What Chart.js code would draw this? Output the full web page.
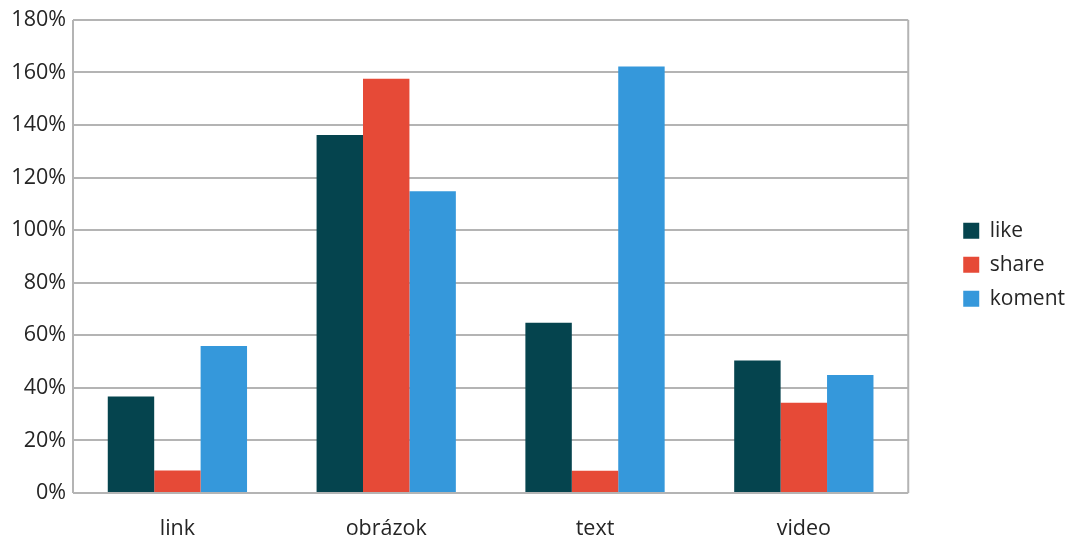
<!DOCTYPE html>
<html>
<head>
<meta charset="utf-8">
<script src="https://cdn.jsdelivr.net/npm/chart.js@4"></script>
<style>
  html, body { margin: 0; padding: 0; background: #fff; }
  #wrap { width: 1070px; height: 538px; }
</style>
</head>
<body>
<div id="wrap"><canvas id="c" width="1070" height="538"></canvas></div>
<script>
// Post types and relative engagement (percent)
const categories = ['link', 'obrázok', 'text', 'video'];
const likeValues   = [36.7, 136.2, 64.8, 50.4];
const shareValues  = [8.6, 157.6, 8.5, 34.3];
const komentValues = [55.9, 114.8, 162.3, 44.9];
const yTicks = [0, 20, 40, 60, 80, 100, 120, 140, 160, 180];

const gridColor = '#b4b4b4';
const textFont = { family: 'Open Sans', size: 21.5 };
const legendFont = { family: 'Open Sans', size: 21 };
const textColor = '#252525';

// Outline the plot area (left and right edges)
const frame = {
  id: 'frame',
  afterDatasetsDraw(chart) {
    const { ctx, chartArea: a } = chart;
    ctx.save();
    ctx.strokeStyle = gridColor;
    ctx.lineWidth = 2;
    ctx.beginPath();
    ctx.moveTo(a.left, a.top); ctx.lineTo(a.left, a.bottom);
    ctx.moveTo(a.right, a.top); ctx.lineTo(a.right, a.bottom);
    ctx.stroke();
    ctx.restore();
  }
};

new Chart(document.getElementById('c'), {
  type: 'bar',
  data: {
    labels: categories,
    datasets: [
      { label: 'like',   data: likeValues,   backgroundColor: '#05444e' },
      { label: 'share',  data: shareValues,  backgroundColor: '#e64a37' },
      { label: 'koment', data: komentValues, backgroundColor: '#3598db' }
    ]
  },
  options: {
    responsive: false,
    animation: false,
    devicePixelRatio: 1,
    layout: { padding: { top: 7, right: -5, bottom: 0, left: 0 } },
    datasets: { bar: { categoryPercentage: 0.667, barPercentage: 1.0 } },
    plugins: {
      legend: {
        position: 'right',
        fullSize: false,
        // blank title block nudges the item column slightly downward
        title: { display: true, text: '', padding: 0, font: { size: 14 } },
        labels: {
          font: legendFont,
          color: textColor,
          boxWidth: 16,
          boxHeight: 16,
          padding: 13
        }
      },
      tooltip: { enabled: false }
    },
    scales: {
      x: {
        grid: { display: false },
        border: { display: false },
        ticks: { font: textFont, color: textColor, padding: 15 },
        afterFit(scale) { scale.height = 45; }
      },
      y: {
        min: 0,
        max: 180,
        afterBuildTicks(axis) { axis.ticks = yTicks.map(v => ({ value: v })); },
        grid: { color: gridColor, lineWidth: 2, drawTicks: false },
        border: { display: false },
        ticks: {
          font: textFont,
          color: textColor,
          padding: 7,
          callback: v => v + '%'
        },
        afterFit(scale) { scale.width = 73; }
      },
      // empty right-hand gutter between the plot and the legend
      gutter: {
        type: 'linear',
        position: 'right',
        min: 0,
        max: 1,
        grid: { display: false },
        border: { display: false },
        ticks: { display: false },
        afterFit(scale) { scale.width = 42; }
      }
    }
  },
  plugins: [frame]
});
</script>
</body>
</html>
